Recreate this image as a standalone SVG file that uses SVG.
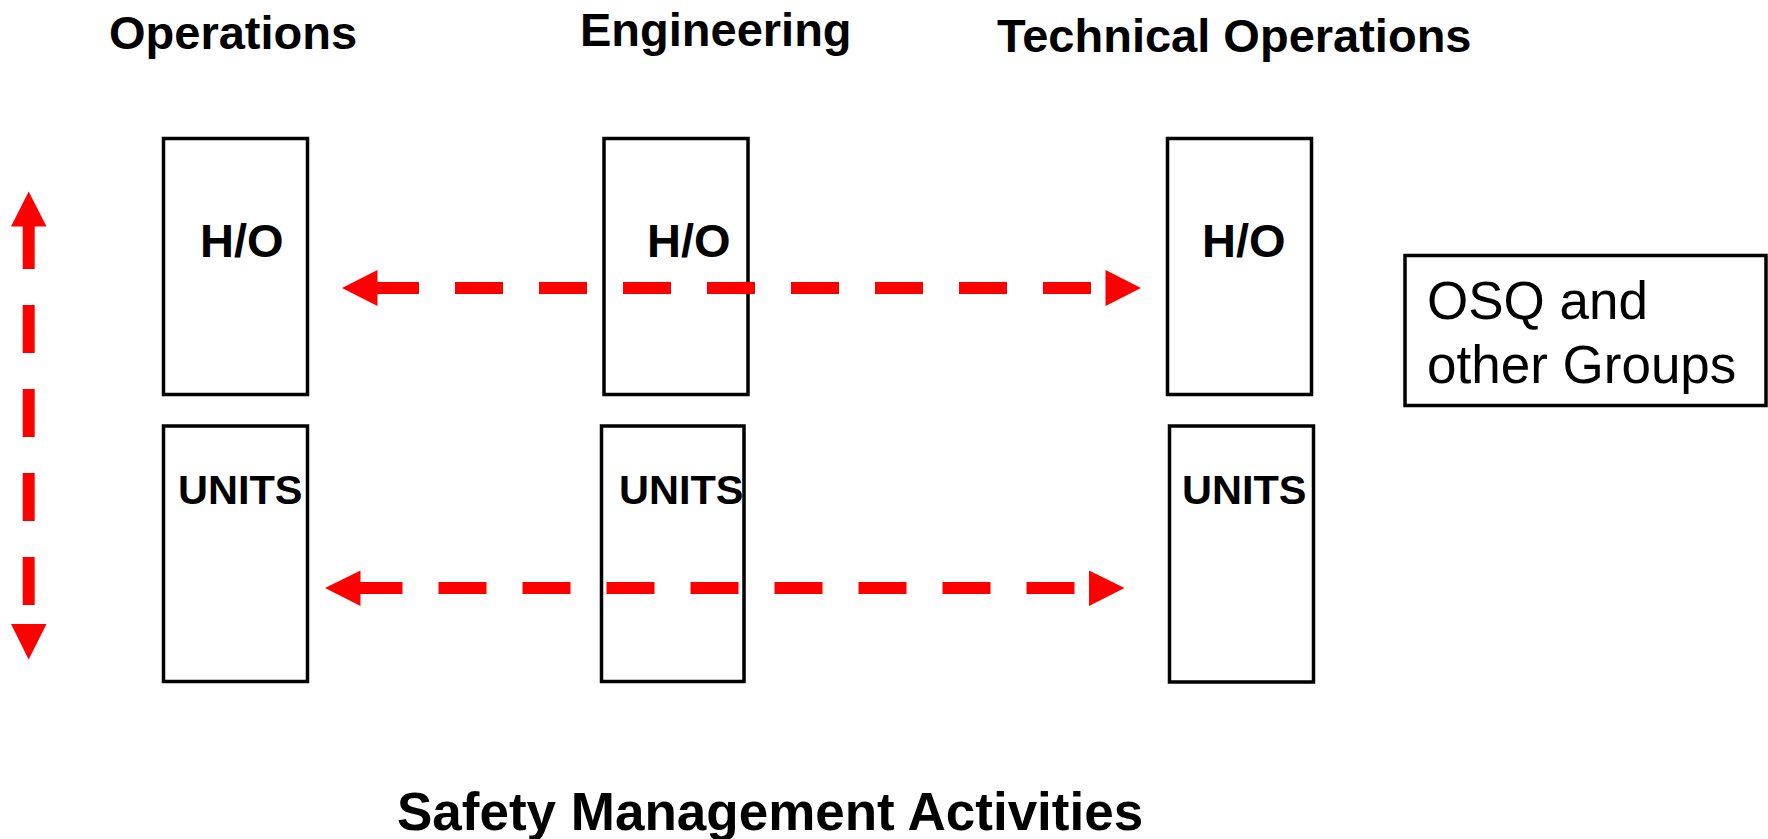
<svg xmlns="http://www.w3.org/2000/svg" width="1768" height="839" viewBox="0 0 1768 839">
<style>
.box{fill:#fff;stroke:#000;stroke-width:3.5}
.hd{font-family:"Liberation Sans",Arial,sans-serif;font-weight:bold;font-size:47px;fill:#000}
.ho{font-family:"Liberation Sans",Arial,sans-serif;font-weight:bold;font-size:47px;fill:#000}
.un{font-family:"Liberation Sans",Arial,sans-serif;font-weight:bold;font-size:41.5px;fill:#000}
.osq{font-family:"Liberation Sans",Arial,sans-serif;font-size:53px;fill:#000}
.ttl{font-family:"Liberation Sans",Arial,sans-serif;font-weight:bold;font-size:53px;fill:#000}
.dash{fill:none;stroke:#FF0000;stroke-width:12;stroke-dasharray:48 36}
.head{fill:#FF0000}
</style>
<rect width="1768" height="839" fill="#fff"/>
<text class="hd" x="109" y="49">Operations</text>
<text class="hd" x="580" y="46">Engineering</text>
<text class="hd" x="997" y="52">Technical Operations</text>

<g id="ops-ho"><rect class="box" x="163.5" y="138.5" width="144" height="256"/><text class="ho" x="200" y="257">H/O</text></g>
<g id="ops-units"><rect class="box" x="163.5" y="426" width="144" height="255.5"/><text class="un" x="178" y="504">UNITS</text></g>
<g id="eng-ho"><rect class="box" x="604" y="138.5" width="144" height="256"/><text class="ho" x="647" y="257">H/O</text></g>
<g id="eng-units"><rect class="box" x="601.5" y="426" width="142.5" height="255.5"/><text class="un" x="619" y="504">UNITS</text></g>
<g id="to-ho"><rect class="box" x="1167.5" y="138.5" width="144" height="256"/><text class="ho" x="1202" y="257">H/O</text></g>
<g id="to-units"><rect class="box" x="1169.5" y="426" width="144" height="256"/><text class="un" x="1182" y="504">UNITS</text></g>
<g id="osq"><rect class="box" x="1405" y="255.5" width="361" height="150"/><text class="osq" x="1427" y="319">OSQ and</text><text class="osq" x="1427" y="383">other Groups</text></g>

<g id="connectors">
<path class="dash" d="M1091 288 H377"/>
<polygon class="head" points="342,288 377.5,270 377.5,306"/>
<polygon class="head" points="1141,288 1105.5,270 1105.5,306"/>
<path class="dash" d="M1074.5 588 H360"/>
<polygon class="head" points="325,588 360.5,570.5 360.5,606"/>
<polygon class="head" points="1124.5,588 1089,570.5 1089,606"/>
<path class="dash" d="M28.7 605 V226"/>
<polygon class="head" points="28.7,191.5 11,226.5 46.5,226.5"/>
<polygon class="head" points="28.7,659.5 11,624 46.5,624"/>
</g>
<text class="ttl" x="397" y="830">Safety Management Activities</text>
</svg>
